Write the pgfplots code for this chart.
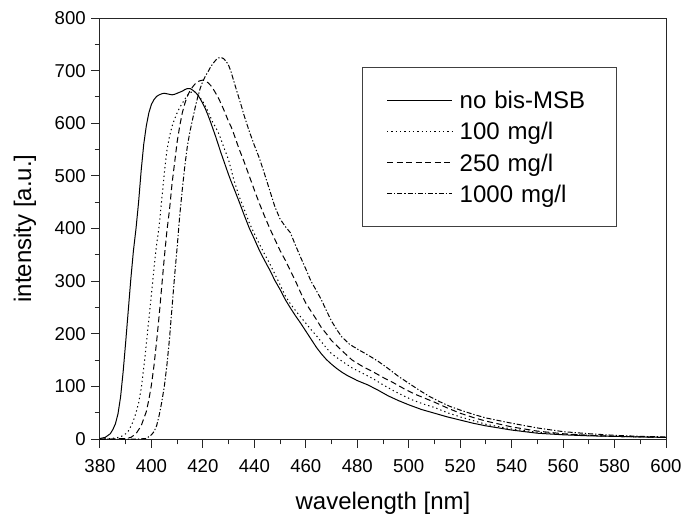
\documentclass[border=0pt]{standalone}
\usepackage{pgfplots}
\pgfplotsset{compat=1.18}
\usepackage{fontspec}
\setmainfont{Liberation Sans}
\begin{document}
\begin{tikzpicture}
\useasboundingbox (-100bp,-76bp) rectangle (582bp,439bp);
\begin{axis}[
  at={(0bp,0bp)}, anchor=south west,
  scale only axis, width=566bp, height=421bp,
  xmin=380, xmax=600, ymin=0, ymax=800,
  xtick={380,400,...,600}, ytick={0,100,...,800},
  minor x tick num=1, minor y tick num=1,
  xtick pos=left, ytick pos=left,
  tick align=outside,
  major tick length=8.7bp, minor tick length=5.3bp,
  axis line style={black!85, line width=1bp},
  every tick/.style={black!85, line width=1bp},
  /pgf/number format/assume math mode=true,
  ticklabel style={font=\fontsize{18.6bp}{20bp}\selectfont},
  xticklabel shift=8.5bp, yticklabel shift=2bp,
  xlabel={wavelength [nm]}, ylabel={intensity [a.u.]},
  label style={font=\fontsize{24bp}{26bp}\selectfont},
  xlabel style={at={(rel axis cs:0.5,-0.1663)}, anchor=base},
  ylabel style={at={(rel axis cs:-0.1325,0.5)}, anchor=center},
  legend style={at={(rel axis cs:0.4624,0.8829)}, anchor=north west,
    draw=black!75, line width=0.8bp, inner xsep=0pt, inner ysep=17.1bp,
    row sep=0pt, column sep=0pt,
    font=\fontsize{24bp}{26bp}\selectfont,
    nodes={inner sep=0pt, text height=19bp, text depth=2bp, minimum height=31.1bp, text width=156.4bp, align=left}},
  legend cell align=left,
  legend image code/.code={\path[draw=none] (0bp,0bp) -- (97.6bp,0bp); \draw[#1] (25bp,0bp) -- (90bp,0bp);},
]
\addplot[black, line width=1bp] coordinates {
(380,1) (382,3) (384,10) (385,18) (386,29) (387,48) (388,80) (389,128) (390,185)
(391,245) (392,305) (393,358) (394,400) (395,450) (396,510) (397,560) (398,595)
(399,620) (400,636) (401,645) (402,651) (403,654) (404,656) (405,657) (406,656)
(407,655) (408,654) (409,655) (410,657) (411,659) (412,661) (413,664) (414,666)
(415,666) (416,663) (417,659) (418,654) (419,646) (420,637) (421,627) (422,615)
(423,602) (424,588) (425,574) (426,559) (427,544) (428,530) (429,516) (430,502)
(431,489) (432,477) (434,452) (436,426) (438,401) (440,380) (442,358) (444,339)
(446,321) (448,301) (450,284) (452,265) (454,249) (456,234) (458,220) (460,205)
(462,190) (464,175) (466,162) (468,151) (470,142) (472,134) (474,127) (476,121)
(478,116) (480,111) (484,103) (488,93) (492,82) (496,73) (500,65) (505,56)
(510,49) (515,42) (520,36) (525,30) (530,25) (540,17) (550,11) (560,8) (570,6)
(580,5) (590,4) (600,3)
};
\addlegendentry{no bis-MSB}
\addplot[black, line width=1bp, dash pattern=on 1.3bp off 3bp] coordinates {
(380,0) (384,1) (386,2) (388,4) (390,10) (391,15) (392,24) (393,35) (394,50)
(395,68) (396,95) (397,135) (398,180) (399,228) (400,275) (401,325) (402,369)
(403,405) (404,455) (405,505) (406,548) (407,575) (408,594) (409,608) (410,620)
(411,630) (412,638) (413,646) (414,653) (415,658) (416,660) (417,659) (418,655)
(419,648) (420,641) (421,632) (422,622) (423,611) (424,600) (425,592) (426,582)
(427,570) (428,556) (429,543) (430,530) (432,493) (434,462) (436,437) (438,411)
(440,390) (442,370) (444,351) (446,333) (448,313) (450,293) (452,272) (454,257)
(456,244) (458,232) (460,220) (462,208) (464,197) (466,185) (468,173) (470,162)
(474,148) (478,135) (482,125) (486,115) (490,103) (494,92) (498,82) (502,73)
(506,66) (510,60) (515,50) (520,42) (525,35) (530,28) (540,19) (550,13) (560,9)
(570,7) (580,5) (590,4) (600,3)
};
\addlegendentry{100 mg/l}
\addplot[black, line width=1bp, dash pattern=on 6bp off 3.5bp] coordinates {
(380,0) (385,0) (390,1) (392,3) (394,10) (396,25) (398,52) (399,75) (400,103)
(401,140) (402,185) (403,235) (404,290) (405,345) (406,395) (407,435) (408,485)
(409,525) (410,565) (411,595) (412,620) (413,638) (414,652) (415,662) (416,669)
(417,675) (418,679) (419,681) (420,682) (421,680) (422,677) (423,672) (424,665)
(425,657) (426,648) (427,638) (428,627) (429,615) (430,603) (431,593) (432,580)
(434,552) (436,527) (438,500) (440,473) (442,447) (444,423) (446,400) (448,379)
(450,358) (452,340) (454,320) (456,300) (458,278) (460,258) (462,243) (464,228)
(466,212) (468,200) (470,187) (474,168) (478,150) (482,138) (486,128) (490,117)
(494,107) (498,96) (502,86) (506,78) (510,70) (515,59) (520,49) (525,41) (530,34)
(540,23) (550,15) (560,10) (570,7) (580,5) (590,4) (600,3)
};
\addlegendentry{250 mg/l}
\addplot[black, line width=1bp, dash pattern=on 5bp off 2bp on 1.3bp off 2bp] coordinates {
(380,0) (390,0) (395,0) (398,1) (400,8) (401,14) (402,25) (403,45) (404,70)
(405,100) (406,140) (407,190) (408,250) (409,310) (410,365) (411,425) (412,475)
(413,520) (414,558) (415,585) (416,608) (417,630) (418,650) (419,667) (420,680)
(421,690) (422,698) (423,707) (424,714) (425,720) (426,724) (427,725) (428,723)
(429,718) (430,710) (431,697) (432,680) (433,664) (434,648) (435,632) (436,615)
(438,585) (440,558) (442,533) (444,503) (446,472) (448,441) (450,418) (452,404)
(454,392) (456,368) (458,345) (460,323) (462,300) (464,283) (466,265) (468,244)
(470,224) (472,208) (474,194) (477,180) (480,171) (484,160) (488,148) (492,134)
(496,119) (500,106) (504,93) (508,81) (512,71) (516,62) (520,55) (525,47)
(530,40) (535,35) (540,30) (550,21) (560,14) (570,10) (580,7) (590,5) (600,4)
};
\addlegendentry{1000 mg/l}
\end{axis}
\end{tikzpicture}
\end{document}
